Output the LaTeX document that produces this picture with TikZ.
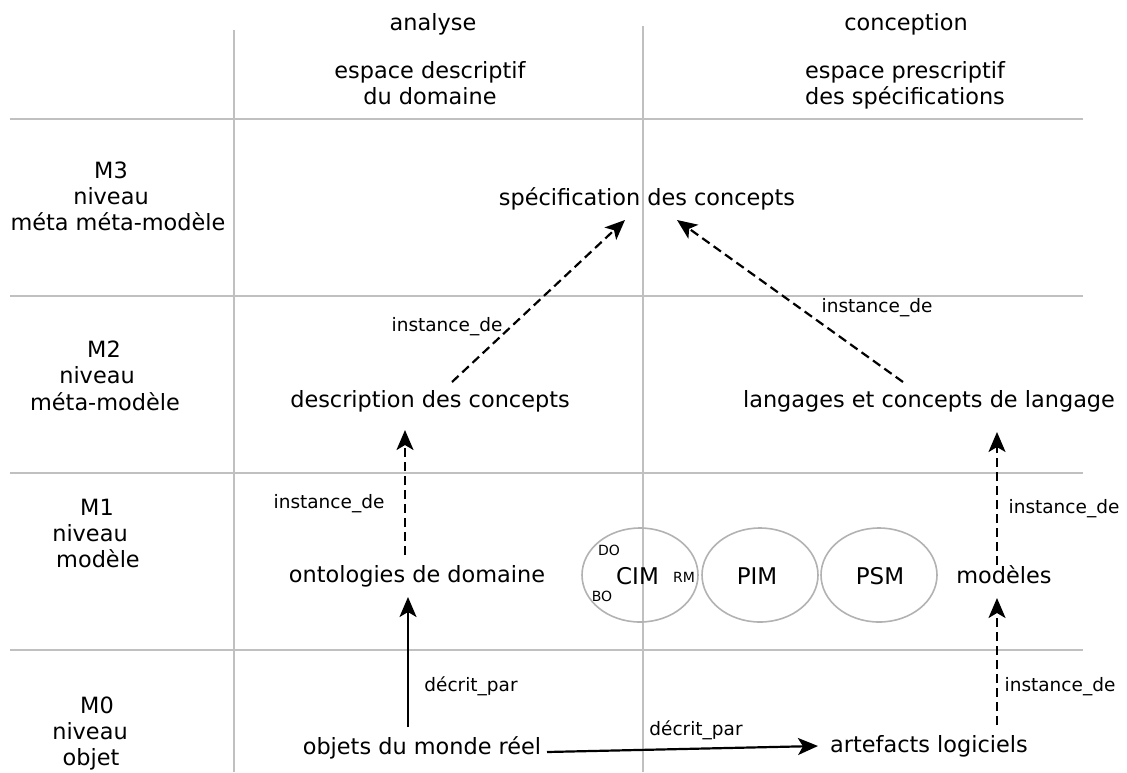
\documentclass[tikz,border=0pt]{standalone}
\usepackage{fontspec}
\setmainfont{DejaVu Sans}
\usetikzlibrary{arrows.meta,calc}
\definecolor{gridgray}{RGB}{192,192,192}
\definecolor{ellgray}{RGB}{178,178,178}
\begin{document}
\begin{tikzpicture}[x=1pt,y=-1pt,
  gridline/.style={draw=gridgray, line width=2pt},
  ellline/.style={draw=ellgray, line width=1.6pt},
  maintxt/.style={inner sep=0pt, font=\fontsize{22.4}{26}\selectfont, text height=17pt, text depth=5.4pt},
  lbl/.style={inner sep=0pt, font=\fontsize{18.5}{22}\selectfont, text height=14pt, text depth=4.4pt},
  side/.style={inner sep=0pt, anchor=base, font=\fontsize{22.4}{26}\selectfont},
  big/.style={inner sep=0pt, anchor=base, font=\fontsize{23}{26}\selectfont},
  tiny/.style={inner sep=0pt, anchor=base, font=\fontsize{14}{16}\selectfont},
  arr/.style={line width=2.2pt, -{Stealth[length=20pt,width=17pt,inset=5pt]}},
  darr/.style={arr, dash pattern=on 9pt off 5pt}]
\useasboundingbox (0,0) rectangle (1127,772);

% grid
\draw[gridline] (233.5,30) -- (233.5,772);
\draw[gridline] (643,26) -- (643,772);
\foreach \yy in {119,296,473,650}{\draw[gridline] (10,\yy) -- (1083,\yy);}

% headers
\node[side] (hA) at (433,30) {analyse};
\node[side] (hB) at (906,30) {conception};
\node[side] (hA1) at (430,78) {espace descriptif};
\node[side] (hA2) at (430,104) {du domaine};
\node[side] (hB1) at (905,78) {espace prescriptif};
\node[side] (hB2) at (905,104) {des spécifications};

% row labels
\node[side] (m3a) at (111,178) {M3};
\node[side] (m3b) at (111,204) {niveau};
\node[side] (m3c) at (118,230) {méta méta-modèle};
\node[side] (m2a) at (104,357) {M2};
\node[side] (m2b) at (97,383) {niveau};
\node[side] (m2c) at (105,410) {méta-modèle};
\node[side] (m1a) at (97,515) {M1};
\node[side] (m1b) at (90,541) {niveau};
\node[side] (m1c) at (98,567) {modèle};
\node[side] (m0a) at (97,713) {M0};
\node[side] (m0b) at (90,739) {niveau};
\node[side] (m0c) at (91,765) {objet};

% ellipses
\draw[ellline] (640,575) ellipse [x radius=58, y radius=47];
\draw[ellline] (760,575) ellipse [x radius=58, y radius=47];
\draw[ellline] (879,575) ellipse [x radius=58, y radius=47];
\node[big] (cim) at (637.5,584) {CIM};
\node[big] (pim) at (757,584) {PIM};
\node[big] (psm) at (880,584) {PSM};
\node[tiny] (do) at (609,555) {DO};
\node[tiny] (bo) at (602,601) {BO};
\node[tiny] (rm) at (684,582) {RM};

% main nodes
\node[maintxt] (spec) at (647,200) {spécification des concepts};
\node[maintxt] (desc) at (430,402) {description des concepts};
\node[maintxt] (lang) at (929,402) {langages et concepts de langage};
\node[maintxt] (onto) at (417,577) {ontologies de domaine};
\node[maintxt] (mod) at (1004,578) {modèles};
\node[maintxt] (obj) at (422,749) {objets du monde réel};
\node[maintxt] (art) at (929,747) {artefacts logiciels};

% connectors
\draw[darr] ($(desc)+(22,-20)$) -- ($(spec)+(-22,20)$);
\draw[darr] ($(lang)+(-26,-20)$) -- ($(spec)+(30,20)$);
\draw[darr] ($(onto)+(-12,-22)$) -- ($(desc)+(-25,28)$);
\draw[darr] ($(mod)+(-7,-13)$) -- ($(lang)+(68,30)$);
\draw[arr] ($(obj)+(-14,-22)$) -- ($(onto)+(-9,20)$);
\draw[darr] ($(art)+(68,-22)$) -- ($(mod)+(-7,20)$);
\draw[arr] ($(obj)+(125,3)$) -- ($(art)+(-111,-1)$);

% connector labels
\node[lbl] (l1) at (447,327) {instance\_de};
\node[lbl] (l2) at (877,308) {instance\_de};
\node[lbl] (l3) at (329,504) {instance\_de};
\node[lbl] (l4) at (1064,509) {instance\_de};
\node[lbl] (l5) at (471,687) {décrit\_par};
\node[lbl] (l6) at (1060,687) {instance\_de};
\node[lbl] (l7) at (696,731) {décrit\_par};
\end{tikzpicture}
\end{document}
